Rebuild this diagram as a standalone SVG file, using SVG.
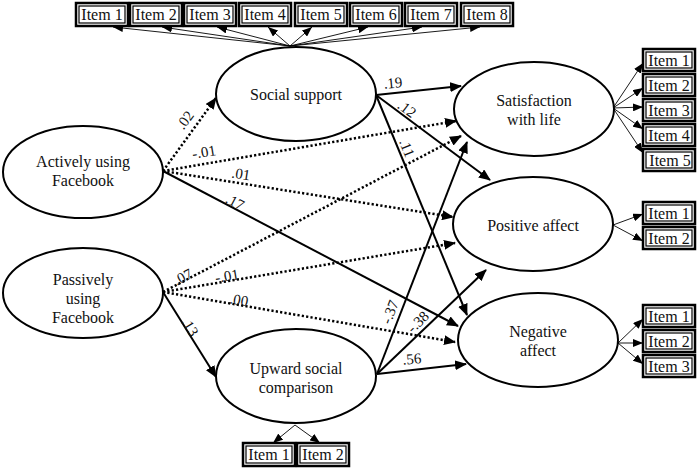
<svg xmlns="http://www.w3.org/2000/svg" width="699" height="470" viewBox="0 0 699 470" font-family="'Liberation Serif', 'DejaVu Serif', serif">
<style>
text{font-family:'Liberation Serif','DejaVu Serif',serif;fill:#111}
.lv{font-size:16px;text-anchor:middle}
.it{font-size:16px;text-anchor:middle}
.lb{font-size:15px;text-anchor:middle}
.el{fill:#fff;stroke:#000;stroke-width:2}
.ob{fill:#fff;stroke:#000;stroke-width:2.5}
.ib{fill:none;stroke:#000;stroke-width:1.2}
.s{stroke:#000;stroke-width:2;fill:none;marker-end:url(#ah)}
.d{stroke:#000;stroke-width:2.5;stroke-dasharray:2.2 2.2;fill:none;marker-end:url(#ah)}
.t{stroke:#000;stroke-width:0.9;fill:none;marker-end:url(#as)}
</style>
<defs>
<marker id="ah" markerUnits="userSpaceOnUse" markerWidth="12" markerHeight="10" refX="11" refY="5" orient="auto"><path d="M0,0 L12,5 L0,10 Z" fill="#000"/></marker>
<marker id="as" markerUnits="userSpaceOnUse" markerWidth="10" markerHeight="8" refX="10" refY="4" orient="auto"><path d="M0,0 L10,4 L0,8 Z" fill="#000"/></marker>
</defs>
<rect width="699" height="470" fill="#fff"/>
<g id="connectors">
<path class="t" d="M290,46 L113,27"/>
<path class="t" d="M290,46 L162,27"/>
<path class="t" d="M290,46 L217,27"/>
<path class="t" d="M290,46 L268,27"/>
<path class="t" d="M290,46 L312,27"/>
<path class="t" d="M290,46 L368,27"/>
<path class="t" d="M290,46 L422,27"/>
<path class="t" d="M290,46 L480,27"/>
<path class="t" d="M295,425 L273,443"/>
<path class="t" d="M295,425 L320,443"/>
<path class="t" d="M613,108 L643,63"/>
<path class="t" d="M613,108 L643,88"/>
<path class="t" d="M613,108 L643,107"/>
<path class="t" d="M613,108 L643,129"/>
<path class="t" d="M613,108 L643,153"/>
<path class="t" d="M613,225 L643,214"/>
<path class="t" d="M613,225 L643,241"/>
<path class="t" d="M618,343 L643,319"/>
<path class="t" d="M618,343 L643,343"/>
<path class="t" d="M618,343 L643,364"/>
<path class="d" d="M163,171 L216,98"/>
<path class="d" d="M163,171 L456,121"/>
<path class="d" d="M163,171 L453,217"/>
<path class="s" d="M163,171 L458,326"/>
<path class="d" d="M163,292 L461,136"/>
<path class="d" d="M163,292 L455,243"/>
<path class="d" d="M163,292 L455,342"/>
<path class="s" d="M163,292 L216,377"/>
<path class="s" d="M376,95 L461,86"/>
<path class="s" d="M376,95 L490,180"/>
<path class="s" d="M376,95 L467,315"/>
<path class="s" d="M377,374 L467,142"/>
<path class="s" d="M377,374 L486,270"/>
<path class="s" d="M377,374 L466,364"/>
</g>
<g id="labels">
<text class="lb" transform="translate(185,120) rotate(-54)" y="5">.02</text>
<text class="lb" transform="translate(204,152) rotate(-9.5)" y="5">-.01</text>
<text class="lb" transform="translate(241,174) rotate(8.8)" y="5">.01</text>
<text class="lb" transform="translate(235,202) rotate(27.6)" y="5">.17</text>
<text class="lb" transform="translate(183,277) rotate(-27.6)" y="5">.07</text>
<text class="lb" transform="translate(227,276) rotate(-9.5)" y="5">-.01</text>
<text class="lb" transform="translate(239,300) rotate(9.7)" y="5">.00</text>
<text class="lb" transform="translate(190,327) rotate(58.5)" y="5">.13</text>
<text class="lb" transform="translate(393,83) rotate(-5.4)" y="5">.19</text>
<text class="lb" transform="translate(407,109) rotate(37)" y="5">.12</text>
<text class="lb" transform="translate(407,148) rotate(67.6)" y="5">.11</text>
<text class="lb" transform="translate(390,312) rotate(-68.7)" y="5">-.37</text>
<text class="lb" transform="translate(418,322) rotate(-43.6)" y="5">-.38</text>
<text class="lb" transform="translate(412,359) rotate(-5)" y="5">.56</text>
</g>
<g id="actively">
<ellipse class="el" cx="83" cy="172" rx="80" ry="46"/>
<text class="lv" x="83" y="167">Actively using</text>
<text class="lv" x="83" y="186">Facebook</text>
</g>
<g id="passively">
<ellipse class="el" cx="83" cy="293" rx="80" ry="45"/>
<text class="lv" x="83" y="285">Passively</text>
<text class="lv" x="83" y="304">using</text>
<text class="lv" x="83" y="323">Facebook</text>
</g>
<g id="social">
<ellipse class="el" cx="296" cy="94" rx="80" ry="47"/>
<text class="lv" x="296" y="100">Social support</text>
</g>
<g id="upward">
<ellipse class="el" cx="296" cy="376" rx="80" ry="47"/>
<text class="lv" x="296" y="374">Upward social</text>
<text class="lv" x="296" y="393">comparison</text>
</g>
<g id="satisfaction">
<ellipse class="el" cx="534" cy="109" rx="80" ry="47"/>
<text class="lv" x="534" y="106">Satisfaction</text>
<text class="lv" x="534" y="125">with life</text>
</g>
<g id="positive">
<ellipse class="el" cx="533" cy="224" rx="80" ry="47"/>
<text class="lv" x="533" y="231">Positive affect</text>
</g>
<g id="negative">
<ellipse class="el" cx="538" cy="340" rx="80" ry="47"/>
<text class="lv" x="538" y="337">Negative</text>
<text class="lv" x="538" y="356">affect</text>
</g>
<g id="ss-items">
<g id="ss1"><rect class="ob" x="76" y="3" width="52" height="23"/><rect class="ib" x="79" y="6" width="46" height="17"/><text class="it" x="102" y="20">Item 1</text></g>
<g id="ss2"><rect class="ob" x="130" y="3" width="52" height="23"/><rect class="ib" x="133" y="6" width="46" height="17"/><text class="it" x="156" y="20">Item 2</text></g>
<g id="ss3"><rect class="ob" x="184" y="3" width="52" height="23"/><rect class="ib" x="187" y="6" width="46" height="17"/><text class="it" x="210" y="20">Item 3</text></g>
<g id="ss4"><rect class="ob" x="239" y="3" width="52" height="23"/><rect class="ib" x="242" y="6" width="46" height="17"/><text class="it" x="265" y="20">Item 4</text></g>
<g id="ss5"><rect class="ob" x="295" y="3" width="52" height="23"/><rect class="ib" x="298" y="6" width="46" height="17"/><text class="it" x="321" y="20">Item 5</text></g>
<g id="ss6"><rect class="ob" x="350" y="3" width="52" height="23"/><rect class="ib" x="353" y="6" width="46" height="17"/><text class="it" x="376" y="20">Item 6</text></g>
<g id="ss7"><rect class="ob" x="405" y="3" width="52" height="23"/><rect class="ib" x="408" y="6" width="46" height="17"/><text class="it" x="431" y="20">Item 7</text></g>
<g id="ss8"><rect class="ob" x="461" y="3" width="52" height="23"/><rect class="ib" x="464" y="6" width="46" height="17"/><text class="it" x="487" y="20">Item 8</text></g>
</g>
<g id="usc-items">
<g id="u1"><rect class="ob" x="243" y="443" width="52" height="23"/><rect class="ib" x="246" y="446" width="46" height="17"/><text class="it" x="269" y="460">Item 1</text></g>
<g id="u2"><rect class="ob" x="297" y="443" width="52" height="23"/><rect class="ib" x="300" y="446" width="46" height="17"/><text class="it" x="323" y="460">Item 2</text></g>
</g>
<g id="swl-items">
<g id="s1"><rect class="ob" x="643" y="49" width="52" height="22"/><rect class="ib" x="646" y="52" width="46" height="16"/><text class="it" x="669" y="66">Item 1</text></g>
<g id="s2"><rect class="ob" x="643" y="74" width="52" height="22"/><rect class="ib" x="646" y="77" width="46" height="16"/><text class="it" x="669" y="91">Item 2</text></g>
<g id="s3"><rect class="ob" x="643" y="99" width="52" height="22"/><rect class="ib" x="646" y="102" width="46" height="16"/><text class="it" x="669" y="116">Item 3</text></g>
<g id="s4"><rect class="ob" x="643" y="124" width="52" height="22"/><rect class="ib" x="646" y="127" width="46" height="16"/><text class="it" x="669" y="141">Item 4</text></g>
<g id="s5"><rect class="ob" x="643" y="149" width="52" height="22"/><rect class="ib" x="646" y="152" width="46" height="16"/><text class="it" x="670" y="166">Item 5</text></g>
</g>
<g id="pa-items">
<g id="p1"><rect class="ob" x="643" y="202" width="52" height="22"/><rect class="ib" x="646" y="205" width="46" height="16"/><text class="it" x="669" y="219">Item 1</text></g>
<g id="p2"><rect class="ob" x="643" y="227" width="52" height="22"/><rect class="ib" x="646" y="230" width="46" height="16"/><text class="it" x="669" y="244">Item 2</text></g>
</g>
<g id="na-items">
<g id="n1"><rect class="ob" x="643" y="305" width="52" height="22"/><rect class="ib" x="646" y="308" width="46" height="16"/><text class="it" x="669" y="322">Item 1</text></g>
<g id="n2"><rect class="ob" x="643" y="330" width="52" height="22"/><rect class="ib" x="646" y="333" width="46" height="16"/><text class="it" x="669" y="347">Item 2</text></g>
<g id="n3"><rect class="ob" x="643" y="355" width="52" height="22"/><rect class="ib" x="646" y="358" width="46" height="16"/><text class="it" x="669" y="372">Item 3</text></g>
</g>
</svg>
